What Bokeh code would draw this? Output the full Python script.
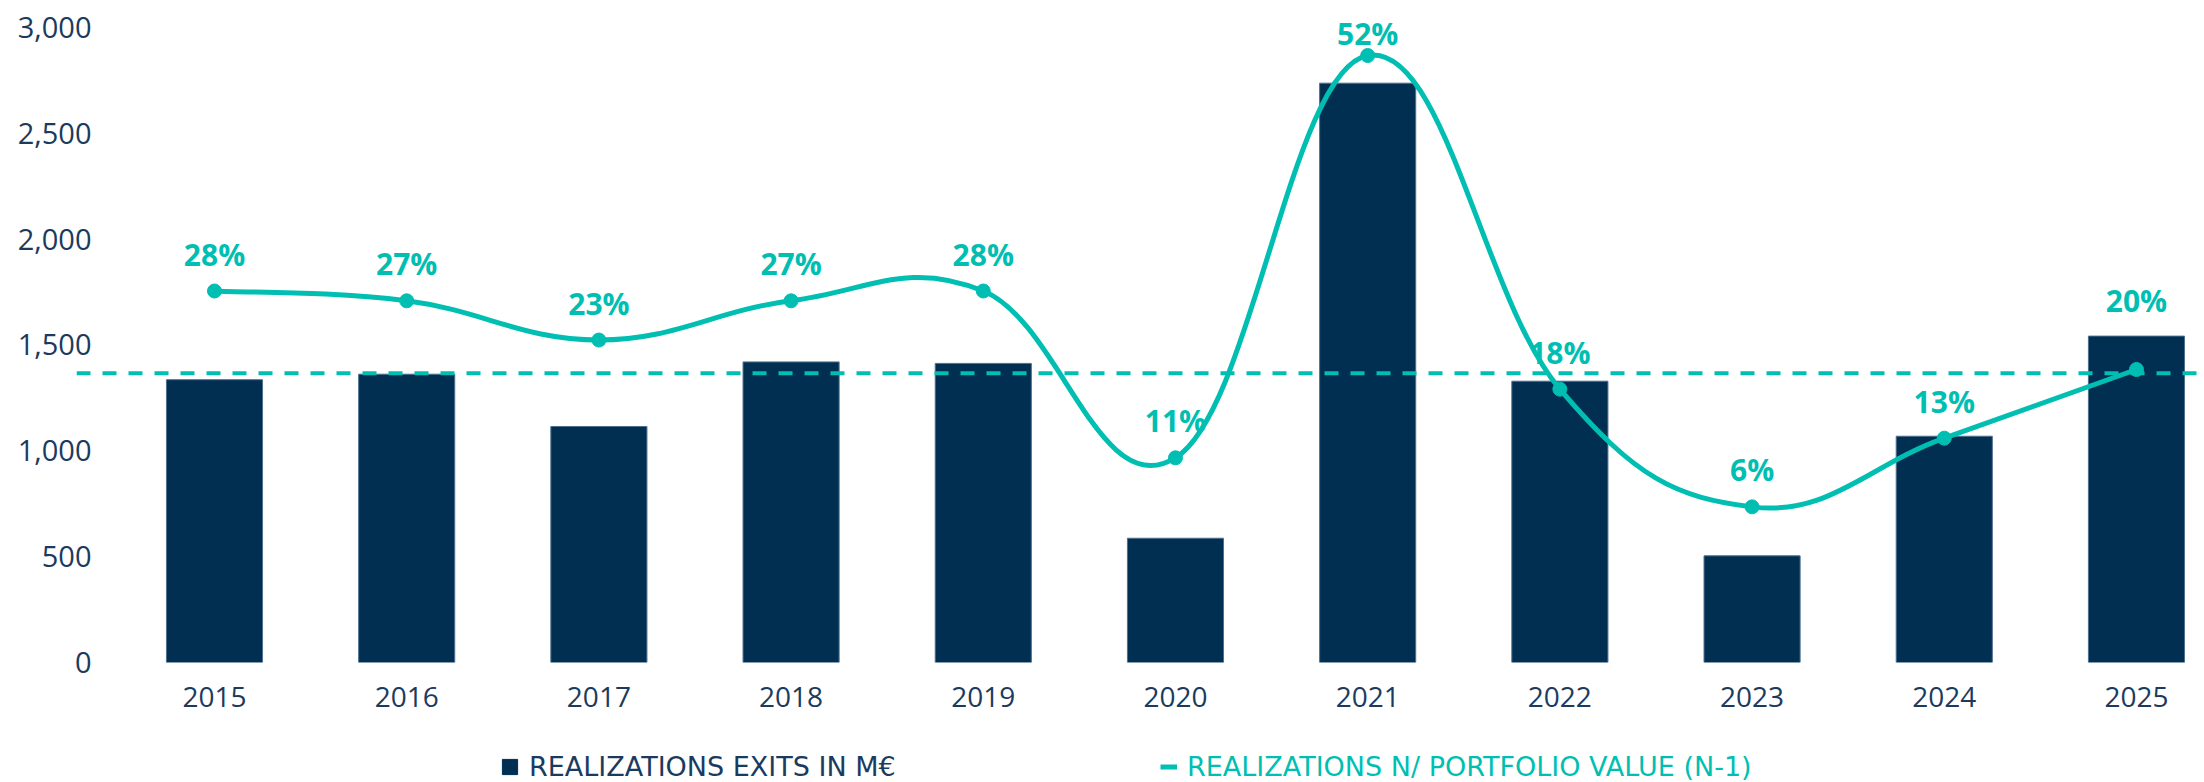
from bokeh.plotting import figure
from bokeh.layouts import column
from bokeh.models import (Range1d, FixedTicker, NumeralTickFormatter, Span,
                          Legend, LegendItem, ColumnDataSource)
from bokeh.core.properties import value
from bokeh.embed import file_html
from bokeh.resources import INLINE

# ---------------- data ----------------
years = [2015, 2016, 2017, 2018, 2019, 2020, 2021, 2022, 2023, 2024, 2025]
exits_meur = [1336, 1362, 1115, 1420, 1413, 587, 2737, 1329, 504, 1069, 1542]
portfolio_pct = [28, 27, 23, 27, 28, 11, 52, 18, 6, 13, 20]
reference_level = 1367
y_ticks = [0, 500, 1000, 1500, 2000, 2500, 3000]
bar_label = "REALIZATIONS EXITS IN M€"
line_label = "REALIZATIONS N/ PORTFOLIO VALUE (N-1)"

# ---------------- style ----------------
NAVY = "#012f52"
TEAL = "#00bfb2"
TEXT = "#1b3b5e"
FONT = "Open Sans"
LEG_FONT = "DejaVu Sans"
label_dy = [-37, -37, -37, -37, -37, -37, -22, -37, -37, -37, -69]

W = 2204
H_MAIN = 738
H_LEG = 44

p = figure(width=W, height=H_MAIN,
           x_range=Range1d(2014.282, 2025.354), y_range=Range1d(0, 3089.7),
           output_backend="svg", toolbar_location=None,
           min_border_left=76, min_border_right=0, min_border_top=8,
           min_border_bottom=H_MAIN - 662)
p.extra_y_ranges = {"pct": Range1d(-9.86, 56.79)}
p.outline_line_color = None
p.grid.visible = False

# axes
xa = p.xaxis[0]
xa.ticker = FixedTicker(ticks=years)
ya = p.yaxis[0]
ya.ticker = FixedTicker(ticks=y_ticks)
ya.formatter = NumeralTickFormatter(format="0,0")
for ax in (xa, ya):
    ax.axis_line_color = None
    ax.major_tick_line_color = None
    ax.minor_tick_line_color = None
    ax.major_label_text_font = FONT
    ax.major_label_text_color = TEXT
xa.major_label_text_font_size = "28px"
ya.major_label_text_font_size = "29px"
xa.major_label_standoff = 18
ya.major_label_standoff = -21

# bars
bars = ColumnDataSource(dict(x=years, top=exits_meur))
p.vbar(x="x", top="top", width=0.5, source=bars, fill_color=NAVY,
       line_color="#4f6f8d", line_width=1)

# reference dashed line
p.add_layout(Span(location=reference_level, dimension="width", line_color=TEAL,
                  line_width=4, line_dash="14 12"))

# smooth curve (cubic bezier segments through the data points)
t = 0.2
n = len(years)
seg = dict(x0=[], y0=[], x1=[], y1=[], cx0=[], cy0=[], cx1=[], cy1=[])
for i in range(n - 1):
    xp, yp = (years[i - 1], portfolio_pct[i - 1]) if i > 0 else (years[i], portfolio_pct[i])
    xn, yn = (years[i + 2], portfolio_pct[i + 2]) if i + 2 < n else (years[i + 1], portfolio_pct[i + 1])
    seg["x0"].append(years[i]); seg["y0"].append(portfolio_pct[i])
    seg["x1"].append(years[i + 1]); seg["y1"].append(portfolio_pct[i + 1])
    seg["cx0"].append(years[i] + t * (years[i + 1] - xp))
    seg["cy0"].append(portfolio_pct[i] + t * (portfolio_pct[i + 1] - yp))
    seg["cx1"].append(years[i + 1] - t * (xn - years[i]))
    seg["cy1"].append(portfolio_pct[i + 1] - t * (yn - portfolio_pct[i]))
p.bezier(source=ColumnDataSource(seg), x0="x0", y0="y0", x1="x1", y1="y1",
         cx0="cx0", cy0="cy0", cx1="cx1", cy1="cy1",
         line_color=TEAL, line_width=5, y_range_name="pct")

pts = ColumnDataSource(dict(x=years, y=portfolio_pct,
                            txt=[f"{v}%" for v in portfolio_pct], dy=label_dy))
p.scatter(x="x", y="y", source=pts, size=14, fill_color=TEAL, line_color=TEAL,
          y_range_name="pct")
p.text(x="x", y="y", text="txt", y_offset="dy", source=pts, y_range_name="pct",
       text_font=value(FONT), text_font_style="bold", text_font_size="30px",
       text_color=TEAL, text_align="center", text_baseline="middle")

# ---------------- legend strip ----------------
q = figure(width=W, height=H_LEG, x_range=Range1d(0, 100), y_range=Range1d(0, 100),
           output_backend="svg", toolbar_location=None,
           min_border=0, x_axis_type=None, y_axis_type=None)
q.outline_line_color = None
q.grid.visible = False
# legend-only renderers, kept outside the visible range
leg_bar = q.vbar(x=[-500], top=[-400], bottom=[-450], width=1, fill_color=NAVY,
                 line_color=NAVY, border_radius=3)
leg_line = q.line(x=[-500, -499], y=[-500, -500], line_color=TEAL, line_width=5)

common = dict(orientation="horizontal", glyph_height=19,
              label_standoff=10, padding=0, margin=0, border_line_color=None,
              background_fill_alpha=0, label_text_font=LEG_FONT,
              label_text_font_size="27px", label_height=19)
l1 = Legend(items=[LegendItem(label=bar_label, renderers=[leg_bar])],
            location=(424, 0), label_text_color=TEXT, glyph_width=19, **common)
l2 = Legend(items=[LegendItem(label=line_label, renderers=[leg_line])],
            location=(1084, 0), label_text_color=TEAL, glyph_width=17, **common)
q.add_layout(l1)
q.add_layout(l2)

layout = column(p, q, spacing=0)
open("out.html", "w").write(file_html(layout, INLINE))
